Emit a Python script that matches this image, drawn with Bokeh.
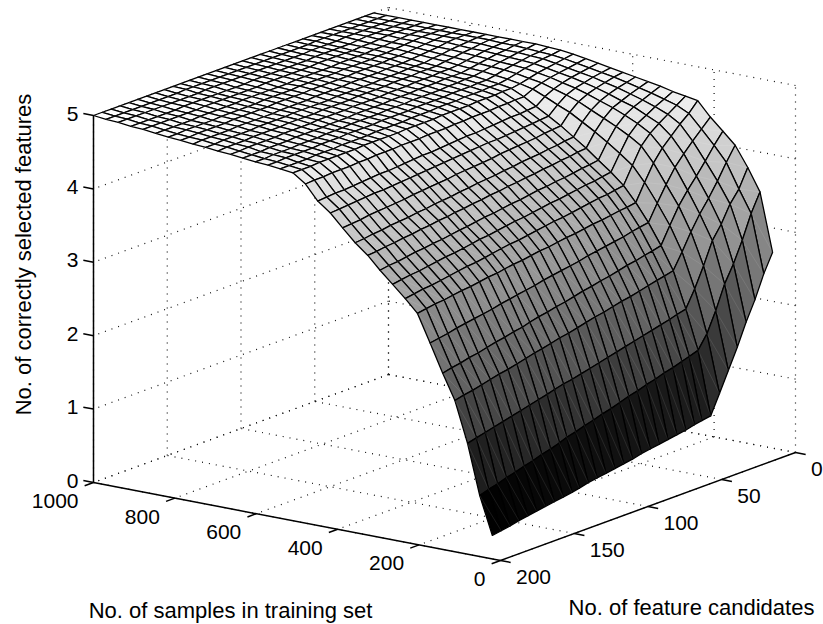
import numpy as np
from bokeh.plotting import figure
from bokeh.models import Range1d
from bokeh.core.properties import value
from bokeh.embed import file_html
from bokeh.resources import INLINE

samples = [20, 51, 81, 112, 142, 173, 204, 234, 265, 296, 326, 357, 388, 418, 449, 479, 510,
           541, 571, 602, 633, 663, 694, 724, 755, 786, 816, 847, 878, 908, 939, 969, 1000]
candidates = [10, 16, 22, 28, 34, 40, 46, 52, 58, 63, 69, 75, 81, 87, 93, 99, 105,
              111, 117, 123, 129, 135, 141, 146, 152, 158, 164, 170, 176, 182, 188, 194, 200]
sample_ticks = [0, 200, 400, 600, 800, 1000]
candidate_ticks = [0, 50, 100, 150, 200]
feature_ticks = [0, 1, 2, 3, 4, 5]
title_samples = "No. of samples in training set"
title_candidates = "No. of feature candidates"
title_features = "No. of correctly selected features"

z_rows = [
[2.78,2.53,2.22,1.96,1.66,1.39,1.12,.86,.84,.82,.79,.77,.75,.73,.71,.69,.66,.64,.62,.60,.58,.56,.53,.51,.49,.47,.45,.43,.41,.39,.36,.34,.32],
[3.57,3.32,3.00,2.72,2.49,2.17,1.90,1.72,1.68,1.65,1.61,1.58,1.54,1.51,1.47,1.44,1.40,1.36,1.33,1.29,1.26,1.22,1.19,1.15,1.11,1.08,1.04,1.01,.97,.94,.90,.87,.83],
[3.87,3.62,3.46,3.23,3.05,2.75,2.48,2.25,2.22,2.19,2.16,2.13,2.10,2.07,2.04,2.01,1.98,1.95,1.92,1.89,1.86,1.84,1.81,1.78,1.75,1.72,1.69,1.66,1.63,1.60,1.57,1.54,1.51],
[4.14,3.95,3.74,3.55,3.38,3.18,2.95,2.74,2.71,2.69,2.66,2.63,2.60,2.58,2.55,2.52,2.50,2.47,2.44,2.41,2.39,2.36,2.33,2.31,2.28,2.25,2.22,2.20,2.17,2.14,2.11,2.09,2.06],
[4.30,4.15,3.98,3.82,3.67,3.50,3.28,3.05,3.02,3.00,2.97,2.95,2.92,2.89,2.87,2.84,2.82,2.79,2.76,2.74,2.71,2.69,2.66,2.63,2.61,2.58,2.56,2.53,2.50,2.48,2.45,2.43,2.40],
[4.46,4.34,4.22,4.09,3.95,3.76,3.55,3.33,3.31,3.29,3.26,3.24,3.22,3.20,3.18,3.15,3.13,3.11,3.09,3.07,3.04,3.02,3.00,2.98,2.96,2.93,2.91,2.89,2.87,2.85,2.82,2.80,2.78],
[4.65,4.52,4.42,4.30,4.18,4.02,3.80,3.57,3.55,3.54,3.52,3.50,3.49,3.47,3.45,3.44,3.42,3.40,3.39,3.37,3.35,3.34,3.32,3.30,3.29,3.27,3.25,3.24,3.22,3.20,3.19,3.17,3.15],
[4.68,4.60,4.52,4.44,4.35,4.22,4.00,3.77,3.75,3.73,3.72,3.70,3.68,3.66,3.64,3.63,3.61,3.59,3.57,3.55,3.54,3.52,3.50,3.48,3.46,3.45,3.43,3.41,3.39,3.37,3.36,3.34,3.32],
[4.71,4.65,4.59,4.52,4.45,4.33,4.13,3.92,3.90,3.88,3.87,3.85,3.83,3.81,3.80,3.78,3.76,3.74,3.73,3.71,3.69,3.67,3.66,3.64,3.62,3.60,3.59,3.57,3.55,3.53,3.52,3.50,3.48],
[4.75,4.70,4.65,4.60,4.53,4.42,4.25,4.05,4.03,4.02,4.00,3.98,3.97,3.95,3.94,3.92,3.90,3.89,3.87,3.85,3.84,3.82,3.80,3.79,3.77,3.75,3.74,3.72,3.71,3.69,3.67,3.66,3.64],
[4.78,4.74,4.70,4.65,4.60,4.50,4.36,4.18,4.17,4.15,4.14,4.12,4.11,4.09,4.08,4.06,4.05,4.03,4.02,4.00,3.99,3.97,3.96,3.94,3.93,3.91,3.90,3.88,3.87,3.85,3.84,3.82,3.81],
[4.81,4.78,4.75,4.71,4.66,4.58,4.46,4.30,4.29,4.27,4.26,4.24,4.23,4.22,4.20,4.19,4.17,4.16,4.15,4.13,4.12,4.10,4.09,4.08,4.06,4.05,4.03,4.02,4.01,3.99,3.98,3.96,3.95],
[4.84,4.82,4.79,4.76,4.72,4.66,4.56,4.42,4.41,4.40,4.38,4.37,4.36,4.35,4.34,4.32,4.31,4.30,4.29,4.28,4.26,4.25,4.24,4.23,4.22,4.20,4.19,4.18,4.17,4.16,4.14,4.13,4.12],
[4.87,4.85,4.83,4.80,4.77,4.72,4.63,4.52,4.51,4.50,4.49,4.48,4.47,4.46,4.46,4.45,4.44,4.43,4.42,4.41,4.40,4.39,4.38,4.37,4.36,4.35,4.34,4.34,4.33,4.32,4.31,4.30,4.29],
[4.90,4.88,4.86,4.84,4.81,4.77,4.71,4.62,4.61,4.60,4.60,4.59,4.58,4.57,4.56,4.56,4.55,4.54,4.53,4.52,4.52,4.51,4.50,4.49,4.48,4.48,4.47,4.46,4.45,4.44,4.44,4.43,4.42],
[4.93,4.91,4.89,4.87,4.85,4.82,4.78,4.72,4.72,4.71,4.71,4.70,4.70,4.70,4.69,4.69,4.68,4.68,4.68,4.67,4.67,4.67,4.66,4.66,4.66,4.65,4.65,4.64,4.64,4.64,4.63,4.63,4.62],
[4.96,4.94,4.92,4.90,4.88,4.85,4.82,4.80,4.80,4.79,4.79,4.79,4.78,4.78,4.78,4.78,4.77,4.77,4.77,4.77,4.76,4.76,4.76,4.76,4.76,4.75,4.75,4.75,4.75,4.75,4.74,4.74,4.74],
[4.98,4.96,4.95,4.93,4.91,4.88,4.85,4.83,4.83,4.82,4.82,4.82,4.81,4.81,4.81,4.80,4.80,4.80,4.79,4.79,4.79,4.79,4.78,4.78,4.78,4.78,4.77,4.77,4.77,4.76,4.76,4.76,4.76],
[4.99,4.97,4.96,4.94,4.92,4.90,4.87,4.85,4.85,4.84,4.84,4.84,4.83,4.83,4.83,4.83,4.82,4.82,4.82,4.82,4.81,4.81,4.81,4.81,4.80,4.80,4.80,4.79,4.79,4.79,4.79,4.78,4.78],
[5,4.98,4.97,4.95,4.93,4.91,4.89,4.87,4.87,4.86,4.86,4.85,4.85,4.85,4.85,4.84,4.84,4.84,4.83,4.83,4.83,4.83,4.82,4.82,4.82,4.81,4.81,4.81,4.80,4.80,4.80,4.79,4.79],
[5,4.99,4.97,4.96,4.94,4.92,4.90,4.88,4.88,4.88,4.87,4.87,4.87,4.86,4.86,4.86,4.85,4.85,4.85,4.85,4.84,4.84,4.84,4.83,4.83,4.83,4.83,4.82,4.82,4.82,4.81,4.81,4.81],
[5,4.99,4.98,4.97,4.95,4.93,4.91,4.90,4.90,4.89,4.89,4.89,4.88,4.88,4.88,4.87,4.87,4.87,4.87,4.86,4.86,4.86,4.86,4.85,4.85,4.85,4.85,4.84,4.84,4.84,4.84,4.83,4.83],
[5,5,4.99,4.97,4.96,4.94,4.93,4.91,4.91,4.91,4.90,4.90,4.90,4.89,4.89,4.89,4.89,4.88,4.88,4.88,4.88,4.87,4.87,4.87,4.87,4.86,4.86,4.86,4.86,4.85,4.85,4.85,4.84],
[5,5,4.99,4.98,4.97,4.95,4.94,4.92,4.92,4.92,4.91,4.91,4.91,4.90,4.90,4.90,4.90,4.90,4.89,4.89,4.89,4.89,4.89,4.88,4.88,4.88,4.88,4.87,4.87,4.87,4.87,4.86,4.86],
[5,5,5,4.99,4.97,4.96,4.95,4.94,4.93,4.93,4.93,4.92,4.92,4.92,4.92,4.91,4.91,4.91,4.91,4.90,4.90,4.90,4.90,4.89,4.89,4.89,4.89,4.89,4.88,4.88,4.88,4.88,4.87],
[5,5,5,4.99,4.98,4.97,4.96,4.95,4.95,4.94,4.94,4.94,4.94,4.93,4.93,4.93,4.93,4.93,4.92,4.92,4.92,4.92,4.91,4.91,4.91,4.91,4.91,4.90,4.90,4.90,4.90,4.89,4.89],
[5,5,5,5,4.99,4.98,4.97,4.96,4.96,4.95,4.95,4.95,4.95,4.94,4.94,4.94,4.94,4.94,4.93,4.93,4.93,4.93,4.92,4.92,4.92,4.92,4.92,4.91,4.91,4.91,4.91,4.90,4.90],
[5,5,5,5,4.99,4.98,4.97,4.97,4.96,4.96,4.96,4.96,4.95,4.95,4.95,4.95,4.95,4.94,4.94,4.94,4.94,4.94,4.94,4.93,4.93,4.93,4.93,4.93,4.92,4.92,4.92,4.92,4.92],
[5,5,5,5,5,4.99,4.98,4.98,4.97,4.97,4.97,4.97,4.97,4.96,4.96,4.96,4.96,4.96,4.96,4.95,4.95,4.95,4.95,4.95,4.95,4.95,4.94,4.94,4.94,4.94,4.94,4.94,4.94],
[5,5,5,5,5,5,4.99,4.98,4.98,4.98,4.98,4.98,4.97,4.97,4.97,4.97,4.97,4.97,4.97,4.96,4.96,4.96,4.96,4.96,4.96,4.96,4.96,4.95,4.95,4.95,4.95,4.95,4.95],
[5,5,5,5,5,5,5,4.99,4.99,4.99,4.99,4.98,4.98,4.98,4.98,4.98,4.98,4.98,4.98,4.98,4.98,4.98,4.98,4.97,4.97,4.97,4.97,4.97,4.97,4.97,4.97,4.97,4.97],
[5,5,5,5,5,5,5,5,5,4.99,4.99,4.99,4.99,4.99,4.99,4.99,4.99,4.99,4.99,4.99,4.99,4.99,4.99,4.99,4.98,4.98,4.98,4.98,4.98,4.98,4.98,4.98,4.98],
[5,5,5,5,5,5,5,5,5,5,5,5,5,5,5,5,5,5,5,5,5,5,5,5,5,5,5,5,5,5,5,5,5],
]

# Oblique view of the MATLAB-style box: where the three axes land on the page.
ORIGIN_X, ORIGIN_Y = 795.0, 452.0
S_DX, S_DY = -407.0, -78.0
C_DX, C_DY = -295.0, 108.0
Z_DY = -73.4


def project(s, c, z):
    u = np.asarray(s, dtype=float) / 1000.0
    v = np.asarray(c, dtype=float) / 200.0
    zz = np.asarray(z, dtype=float)
    return ORIGIN_X + S_DX * u + C_DX * v, ORIGIN_Y + S_DY * u + C_DY * v + Z_DY * zz


def segment(a, b):
    xa, ya = project(*a)
    xb, yb = project(*b)
    return [float(xa), float(xb)], [float(ya), float(yb)]


p = figure(width=823, height=624, output_backend="svg", toolbar_location=None,
           x_range=Range1d(0, 823), y_range=Range1d(624, 0),
           x_axis_type=None, y_axis_type=None, min_border=0, outline_line_color=None)
p.grid.visible = False

# dotted grid on the floor and the two back walls
z_max = feature_ticks[-1]
c_far = candidate_ticks[-1]
gx, gy = [], []
for s in sample_ticks:
    for a, b in (((s, 0, 0), (s, c_far, 0)), ((s, 0, 0), (s, 0, z_max))):
        x, y = segment(a, b)
        gx.append(x)
        gy.append(y)
for c in candidate_ticks:
    for a, b in (((0, c, 0), (1000, c, 0)), ((1000, c, 0), (1000, c, z_max))):
        x, y = segment(a, b)
        gx.append(x)
        gy.append(y)
for z in feature_ticks:
    for a, b in (((1000, 0, z), (1000, c_far, z)), ((0, 0, z), (1000, 0, z))):
        x, y = segment(a, b)
        gx.append(x)
        gy.append(y)
p.multi_line(gx, gy, line_color="#111111", line_width=1.2, line_dash="1 6")

# surface cells, far corner first; a flat cell takes the colour of its first vertex
Z = np.array(z_rows)
zmin, zmax = Z.min(), Z.max()
xs, ys, colors, sx_d, sy_d = [], [], [], [], []
for i in range(len(samples) - 2, -1, -1):
    for j in range(len(candidates) - 1):
        si = [samples[i], samples[i + 1], samples[i + 1], samples[i]]
        cj = [candidates[j], candidates[j], candidates[j + 1], candidates[j + 1]]
        zc = [Z[i, j], Z[i + 1, j], Z[i + 1, j + 1], Z[i, j + 1]]
        x, y = project(si, cj, zc)
        xs.append(x.tolist())
        ys.append(y.tolist())
        sx_d.append([float(x[0]), float(x[2])])
        sy_d.append([float(y[0]), float(y[2])])
        level = int(round(255 * (Z[i, j] - zmin) / (zmax - zmin)))
        colors.append("#%02x%02x%02x" % (level, level, level))
p.patches(xs, ys, fill_color=colors, line_color="black", line_width=1.3, line_join="round")
# faint seam across each cell, as the printed surface shows
p.multi_line(sx_d, sy_d, line_color="white", line_alpha=0.16, line_width=0.6)

# solid axes and their ticks
ax, ay = [], []
for a, b in (((1000, 200, 0), (0, 200, 0)), ((0, 200, 0), (0, 0, 0)), ((1000, 200, 0), (1000, 200, 5))):
    x, y = segment(a, b)
    ax.append(x)
    ay.append(y)
for s in sample_ticks:
    x, y = segment((s, 200, 0), (s, 206, 0))
    ax.append(x)
    ay.append(y)
for c in candidate_ticks:
    x, y = segment((0, c, 0), (-25, c, 0))
    ax.append(x)
    ay.append(y)
for z in feature_ticks:
    x, y = segment((1000, 200, z), (1025, 200, z))
    ax.append(x)
    ay.append(y)
p.multi_line(ax, ay, line_color="black", line_width=1.5)

FONT = value("Liberation Sans")
SIZE = "21px"
TITLE_SIZE = "22px"
sx, sy = project(sample_ticks, [200] * len(sample_ticks), [0] * len(sample_ticks))
p.text(sx - 15, sy + 18.5, text=[str(t) for t in sample_ticks], text_font=FONT, text_font_size=SIZE,
       text_align="right", text_baseline="middle", text_color="black")
cx, cy = project([0] * len(candidate_ticks), candidate_ticks, [0] * len(candidate_ticks))
p.text(cx + 15.5, cy + 16.5, text=[str(t) for t in candidate_ticks], text_font=FONT, text_font_size=SIZE,
       text_align="left", text_baseline="middle", text_color="black")
fx, fy = project([1000] * len(feature_ticks), [200] * len(feature_ticks), feature_ticks)
p.text(fx - 15, fy - 2, text=[str(t) for t in feature_ticks], text_font=FONT, text_font_size=SIZE,
       text_align="right", text_baseline="middle", text_color="black")

p.text([230], [610], text=[title_samples], text_font=FONT, text_font_size=TITLE_SIZE,
       text_align="center", text_baseline="middle", text_color="black")
p.text([691], [607], text=[title_candidates], text_font=FONT, text_font_size=TITLE_SIZE,
       text_align="center", text_baseline="middle", text_color="black")
p.text([23], [254], text=[title_features], text_font=FONT, text_font_size=TITLE_SIZE, angle=[np.pi / 2],
       text_align="center", text_baseline="middle", text_color="black")

open("out.html", "w").write(file_html(p, INLINE))
